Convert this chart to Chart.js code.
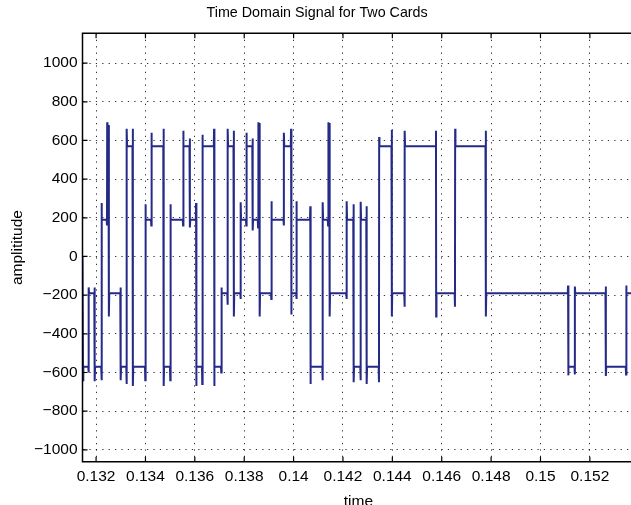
<!DOCTYPE html>
<html><head><meta charset="utf-8">
<script src="https://cdn.jsdelivr.net/npm/chart.js@4.4.1/dist/chart.umd.min.js"></script>
<style>
html,body{margin:0;padding:0;overflow:hidden;background:#fff;width:631px;height:505px}
#wrap{position:relative;width:689px;height:513px}
</style></head><body>
<div id="wrap"><canvas id="c" width="689" height="513"></canvas></div>
<script>
const xTicks = [0.132,0.134,0.136,0.138,0.140,0.142,0.144,0.146,0.148,0.150,0.152];
const xTickLabels = ['0.132','0.134','0.136','0.138','0.14','0.142','0.144','0.146','0.148','0.15','0.152'];
const yTicks = [-1000,-800,-600,-400,-200,0,200,400,600,800,1000];
const xRange = [0.13145, 0.1538];
const yRange = [-1062, 1154];
const startLevel = 0;
const edgeTimes = [0.131468,0.131700,0.131943,0.132223,0.132446,0.132518,0.132996,0.133239,0.133490,0.133997,
  0.134240,0.134738,0.135009,0.135528,0.135799,0.136054,0.136305,0.136783,0.137075,0.137330,
  0.137581,0.137857,0.138087,0.138343,0.138565,0.138626,0.139100,0.139606,0.139902,0.140117,
  0.140680,0.141178,0.141401,0.141461,0.142150,0.142433,0.142717,0.142960,0.143462,0.143980,
  0.144499,0.145771,0.146540,0.147788,0.151121,0.151393,0.152648,0.153470];
const edgeLevels = [-570,-190,-570,190,570,-190,-570,570,-570,190,
  570,-570,190,570,190,-570,570,-570,-190,570,
  -190,190,570,190,570,-190,190,570,-190,190,
  -570,190,570,-190,190,-570,190,-570,570,-190,
  570,-190,570,-190,-570,-190,-570,-190];
const preShoot = [0,-600,-160,-640,160,680,-160,-660,660,-640,
  160,660,-640,160,610,276,-660,660,-600,-250,
  650,-220,160,610,150,690,-220,160,660,-220,
  260,-640,160,690,-220,270,-640,260,-650,655,
  -260,650,-260,650,-150,-610,-155,-610];
const overShoot = [-640,-160,-645,277,694,-310,-640,660,-670,270,
  640,-670,270,650,150,-670,630,-670,-160,660,
  -310,280,640,135,694,-310,285,640,-300,285,
  -660,280,694,-310,285,-650,283,-660,618,-310,
  650,-310,660,-310,-615,-155,-618,-150];

const pts = [{x: xRange[0], y: startLevel}];
let prev = startLevel;
for (let i = 0; i < edgeTimes.length; i++) {
  const t = edgeTimes[i];
  pts.push({x: t - 1.6e-5, y: prev}, {x: t - 4e-6, y: preShoot[i]},
           {x: t + 4e-6, y: overShoot[i]}, {x: t + 1.6e-5, y: edgeLevels[i]});
  prev = edgeLevels[i];
}
pts.push({x: xRange[1], y: prev});

const FONT = '"Liberation Sans", Arial, Helvetica, sans-serif';
const fmtY = v => (v < 0 ? '\u2212' + Math.abs(v) : String(v));

const boxPlugin = {
  id: 'box',
  afterDraw(chart) {
    const {ctx, chartArea: a, scales: {x, y}} = chart;
    ctx.save();
    ctx.strokeStyle = '#000';
    ctx.lineWidth = 1.5;
    ctx.beginPath();
    ctx.moveTo(a.left, a.top); ctx.lineTo(a.right, a.top);
    ctx.moveTo(a.left, a.top - 0.75); ctx.lineTo(a.left, a.bottom + 0.75);
    ctx.moveTo(a.left, a.bottom); ctx.lineTo(a.right, a.bottom);
    ctx.moveTo(a.right, a.top); ctx.lineTo(a.right, a.bottom);
    ctx.stroke();
    ctx.lineWidth = 1.2;
    ctx.beginPath();
    xTicks.forEach(v => {
      const px = x.getPixelForValue(v);
      ctx.moveTo(px, a.bottom); ctx.lineTo(px, a.bottom - 5);
      ctx.moveTo(px, a.top); ctx.lineTo(px, a.top + 5);
    });
    yTicks.forEach(v => {
      const py = y.getPixelForValue(v);
      ctx.moveTo(a.left, py); ctx.lineTo(a.left + 5, py);
    });
    ctx.stroke();
    ctx.restore();
  }
};

new Chart(document.getElementById('c'), {
  type: 'line',
  data: { datasets: [{
    data: pts,
    borderColor: '#252a88',
    borderWidth: 2,
    pointRadius: 0,
    tension: 0,
    fill: false
  }]},
  options: {
    responsive: false,
    animation: false,
    events: [],
    layout: { padding: { left: 0, right: 54.7, top: 0, bottom: 0 } },
    plugins: {
      legend: { display: false },
      tooltip: { enabled: false },
      title: {
        display: true,
        text: 'Time Domain Signal for Two Cards',
        color: '#000',
        font: { family: FONT, size: 14.3, weight: 'normal' },
        padding: { top: 4, bottom: 12.2 }
      }
    },
    scales: {
      x: {
        type: 'linear',
        min: xRange[0], max: xRange[1],
        afterBuildTicks: s => { s.ticks = xTicks.map(v => ({value: v})); },
        ticks: {
          color: '#000', padding: 6, maxRotation: 0, autoSkip: false,
          font: { family: FONT, size: 15.5 },
          callback: (v) => { const i = xTicks.findIndex(t => Math.abs(t - v) < 1e-9); return i >= 0 ? xTickLabels[i] : ''; }
        },
        grid: { color: 'rgba(0,0,0,0.8)', lineWidth: 1, drawTicks: false },
        border: { display: false, dash: [1.3, 5.1] },
        title: { display: true, text: 'time', color: '#000',
          font: { family: FONT, size: 15.5 }, padding: { top: 0, bottom: 2 } }
      },
      y: {
        type: 'linear',
        min: yRange[0], max: yRange[1],
        afterBuildTicks: s => { s.ticks = yTicks.map(v => ({value: v})); },
        afterFit: s => { s.width = 82.5; },
        ticks: {
          color: '#000', padding: 5, autoSkip: false,
          font: { family: FONT, size: 15.5 },
          callback: v => fmtY(v)
        },
        grid: { color: 'rgba(0,0,0,0.8)', lineWidth: 1, drawTicks: false },
        border: { display: false, dash: [1.3, 5.1] },
        title: { display: true, text: 'amplititude', color: '#000',
          font: { family: FONT, size: 15.5 }, padding: { top: 8, bottom: 0 } }
      }
    }
  },
  plugins: [boxPlugin]
});
</script>
</body></html>
